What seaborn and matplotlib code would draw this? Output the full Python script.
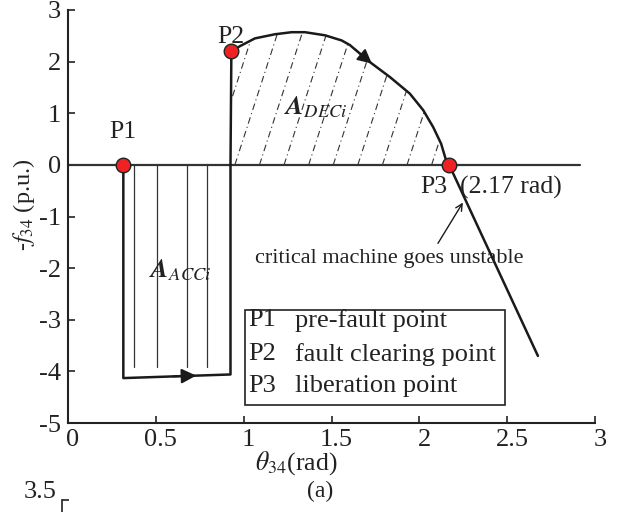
import numpy as np
import pandas as pd
import matplotlib
matplotlib.use("Agg")
import matplotlib.pyplot as plt
import matplotlib.transforms as mtransforms
from matplotlib.patches import Polygon, Rectangle
import seaborn as sns

# ---------------- data ----------------
point_labels = ["P1", "P2", "P3"]
point_x = [0.315, 0.93, 2.17]
point_y = [0.0, 2.2, 0.0]

# post-fault trajectory (deceleration arc)
curve_x = [0.93, 0.979, 1.064, 1.178, 1.273, 1.349, 1.463, 1.558, 1.605, 1.719,
           1.833, 1.946, 2.022, 2.079, 2.124, 2.152, 2.17]
curve_y = [2.20, 2.30, 2.45, 2.53, 2.57, 2.57, 2.51, 2.41, 2.32, 1.99,
           1.70, 1.38, 1.06, 0.73, 0.41, 0.09, 0.0]

# beyond the liberation point
unstable_x = [2.17, 2.675]
unstable_y = [0.0, -3.70]

# fault-on trajectory (acceleration box)
acc_x = [0.315, 0.315, 0.925, 0.925]
acc_y = [0.0, -4.13, -4.06, 0.0]
acc_hatch_x = [0.377, 0.505, 0.675, 0.789]
acc_hatch_bottom = -3.92

zero_line_x = [0.0, 2.915]

legend_keys = ["P1", "P2", "P3"]
legend_desc = ["pre-fault point", "fault clearing point", "liberation point"]

x_ticks = [0, 0.5, 1, 1.5, 2, 2.5, 3]
x_tick_labels = ["0", "0.5", "1", "1.5", "2", "2.5", "3"]
y_ticks = [-5, -4, -3, -2, -1, 0, 1, 2, 3]

# ---------------- style ----------------
sns.set_theme(style="ticks")
plt.rcParams["font.family"] = ["Liberation Serif", "DejaVu Serif"]
plt.rcParams["mathtext.fontset"] = "stix"
plt.rcParams["xtick.direction"] = "in"
plt.rcParams["ytick.direction"] = "in"

TC = "#222222"
W, H = 624, 512
fig = plt.figure(figsize=(W / 100, H / 100), dpi=100)
ax = fig.add_axes([68 / W, 1 - 423 / H, (595 - 68) / W, (423 - 10) / H])

ax.set_xlim(0, 3)
ax.set_ylim(-5, 3)
ax.set_xticks(x_ticks)
ax.set_xticklabels(x_tick_labels)
ax.set_yticks(y_ticks)
ax.set_yticklabels([str(v) for v in y_ticks])
ax.tick_params(axis="both", labelsize=19, length=5, width=1.2, colors=TC,
               labelcolor=TC)
ax.tick_params(axis="x", pad=4)
ax.tick_params(axis="y", pad=5)
shift = mtransforms.ScaledTranslation(5 / 100, 0, fig.dpi_scale_trans)
for lab in ax.get_xticklabels():
    lab.set_transform(lab.get_transform() + shift)
for s in ["top", "right"]:
    ax.spines[s].set_visible(False)
for s in ["left", "bottom"]:
    ax.spines[s].set_linewidth(1.5)
    ax.spines[s].set_color(TC)

lc = "#1a1a1a"

# zero line
ax.plot(zero_line_x, [0, 0], color="#333333", lw=1.6, zorder=2)

# deceleration hatch (slanted dash-dot lines clipped to the area)
poly_x = list(curve_x) + [curve_x[0]]
poly_y = list(curve_y) + [0.0]
dec_poly = Polygon(np.column_stack([poly_x, poly_y]), closed=True,
                   facecolor="none", edgecolor="none")
ax.add_patch(dec_poly)
slope = 10.5
spacing = 0.14
starts = np.arange(curve_x[0] + 0.02 - 2 * spacing, curve_x[-1] + 0.01, spacing)
for x0 in starts:
    hl, = ax.plot([x0, x0 + 3.0 / slope], [0, 3.0], color="#333333", lw=0.8,
                  linestyle=(0, (6, 3, 1, 3)), zorder=1.5)
    hl.set_clip_path(dec_poly)

# acceleration hatch (vertical thin lines)
for xv in acc_hatch_x:
    ax.plot([xv, xv], [0, acc_hatch_bottom], color="#333333", lw=0.9, zorder=1.5)

# fault-on trajectory
ax.plot(acc_x, acc_y, color=lc, lw=1.8, zorder=3)
ax.plot([acc_x[-1], point_x[1]], [acc_y[-1], point_y[1]], color=lc, lw=1.8, zorder=3)

# deceleration arc and unstable continuation
curve_df = pd.DataFrame({"theta": curve_x, "f": curve_y})
sns.lineplot(data=curve_df, x="theta", y="f", sort=False, color=lc, lw=1.8,
             ax=ax, zorder=3)
sns.lineplot(x=unstable_x, y=unstable_y, sort=False, color=lc, lw=1.8, ax=ax, zorder=3)

# direction arrows
xa0, xa1 = 1.63, 1.73
ax.annotate("", xy=(xa1, np.interp(xa1, curve_x, curve_y)),
            xytext=(xa0, np.interp(xa0, curve_x, curve_y)),
            arrowprops=dict(arrowstyle="-|>", color=lc, lw=1.2,
                            mutation_scale=22, shrinkA=0, shrinkB=0), zorder=4)
bx0, bx1 = 0.60, 0.73
ax.annotate("", xy=(bx1, np.interp(bx1, acc_x[1:3], acc_y[1:3])),
            xytext=(bx0, np.interp(bx0, acc_x[1:3], acc_y[1:3])),
            arrowprops=dict(arrowstyle="-|>", color=lc, lw=1.5,
                            mutation_scale=22, shrinkA=0, shrinkB=0), zorder=4)

# key points
sns.scatterplot(x=point_x, y=point_y, s=110, color="#ee2222", edgecolor=TC,
                linewidth=1.0, ax=ax, zorder=5)

# labels of points
ax.text(point_x[0], 0.53, "P1", fontsize=18.5, ha="center", va="baseline", color=TC)
ax.text(point_x[1] - 0.005, 2.36, "P2", fontsize=18.5, ha="center", va="baseline", color=TC)
ax.text(point_x[2] - 0.01, -0.55, "P3", fontsize=18.5, ha="right", va="baseline", color=TC)
ax.text(point_x[2] + 0.06, -0.55, "(2.17 rad)", fontsize=18.5, ha="left", va="baseline",
        color=TC)

# area labels
ax.text(1.41, 1.12, r"$\mathbfit{A}_{\mathit{DECi}}$", fontsize=19, ha="center",
        va="center", color=TC)
ax.text(0.64, -2.04, r"$\mathbfit{A}_{\mathit{ACCi}}$", fontsize=19, ha="center",
        va="center", color=TC)

# annotation
ax.text(1.83, -1.82, "critical machine goes unstable", fontsize=16, ha="center",
        va="center", color=TC)
ax.annotate("", xy=(2.248, -0.73), xytext=(2.106, -1.52),
            arrowprops=dict(arrowstyle="->", color=lc, lw=1.0, shrinkA=0, shrinkB=0,
                            mutation_scale=12))

# key box
box_left, box_right = (245 - 68) / 527 * 3, (505 - 68) / 527 * 3
box_top, box_bot = (164.5 - 310) / 51.6, (164.5 - 405) / 51.6
ax.add_patch(Rectangle((box_left, box_bot), box_right - box_left, box_top - box_bot,
                       facecolor="white", edgecolor=TC, lw=1.2, zorder=6))
row_y = [(164.5 - 320) / 51.6, (164.5 - 354) / 51.6, (164.5 - 386) / 51.6]
for k, d, yy in zip(legend_keys, legend_desc, row_y):
    ax.text(box_left + 0.017, yy, k, fontsize=19, va="center", ha="left",
            color=TC, zorder=7)
    ax.text(box_left + 0.285, yy, d, fontsize=19, va="center", ha="left",
            color=TC, zorder=7)

# axis labels
ax.set_xlabel(r"$\theta_{34}$(rad)", fontsize=18.5, color=TC)
ax.xaxis.set_label_coords((296 - 68) / 527, (423 - 449) / 413)
ax.set_ylabel(r"-$f_{34}$ (p.u.)", fontsize=17.5, color=TC)
ax.yaxis.set_label_coords((37 - 68) / 527, 0.529)

# caption and the top of the next panel
fig.text(320 / W, 1 - 491 / H, "(a)", fontsize=17, ha="center", va="center",
         color=TC)
fig.text(40 / W, 1 - 492 / H, "3.5", fontsize=19, ha="center", va="center", color=TC)
ax2 = fig.add_axes([62 / W, -0.3, 0.5, 0.3 + 12 / H])
ax2.set_ylim(0, 3.5)
ax2.set_yticks([3.5])
ax2.set_yticklabels([""])
ax2.set_xticks([])
ax2.tick_params(axis="y", length=5, width=1.2, colors=TC, direction="in")
for s in ["top", "right", "bottom"]:
    ax2.spines[s].set_visible(False)
ax2.spines["left"].set_linewidth(1.2)
ax2.spines["left"].set_color(TC)
ax2.patch.set_alpha(0)

fig.savefig("out.png", dpi=100)
